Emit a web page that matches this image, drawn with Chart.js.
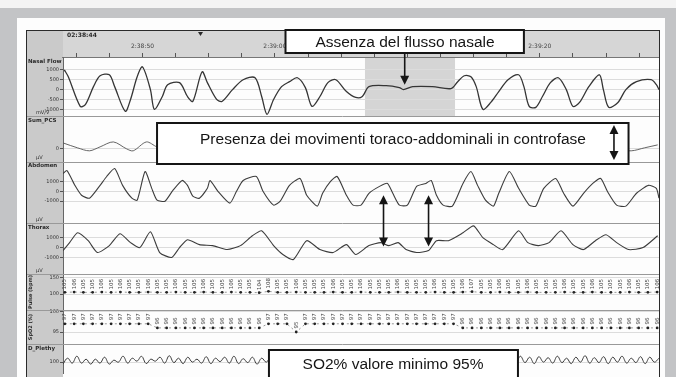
<!DOCTYPE html>
<html>
<head>
<meta charset="utf-8">
<script src="https://cdn.jsdelivr.net/npm/chart.js@4.4.1/dist/chart.umd.min.js"></script>
<style>
  html, body { margin: 0; padding: 0; background: #f4f4f4; }
  #wrap { width: 676px; height: 377px; }
</style>
</head>
<body>
<div id="wrap"><canvas id="psg" width="676" height="377"></canvas></div>
<script>
// time axis, seconds from the left edge of the page
const timeTicks = [1, 3.5, 6, 8.5, 11, 13.5, 16, 18.5, 21, 23.5, 26, 28.5, 31, 33.5, 36, 38.5, 41, 43.5];
const timeLabelAt = [6, 16, 26, 36];
const timeLabels = ["2:38:50", "2:39:00", "2:39:10", "2:39:20"];

// channel names / units / tick values
const rowNames = ["Nasal Flow", "Sum_PCS", "Abdomen", "Thorax", "Pulse (bpm)", "SpO2 (%)", "D_Plethy"];
const rowUnits = ["mV/V", "µV", "µV", "µV", "", "", ""];
const rowTicks = [[-1000, -500, 0, 500, 1000], [0], [-1000, 0, 1000], [-1000, 0, 1000], [100, 150], [95, 100], [100]];

// nasal flow
const flowT = [0.1,0.4,1.3,1.7,2.3,2.8,3.5,3.9,4.7,5.1, 5.6,6.0,6.6,6.9,7.5,7.9,8.8,9.4,9.8,10.5,
  10.9,11.6,12.0,12.8,13.6,14.5,15.0,15.4,15.9,16.5, 17.1,17.7,18.3,18.8,19.4,20.0,20.6,21.4,22.1,22.6,
  23.1,24.4,25.4,25.7,26.4,27.9,29.3,29.8,30.3,30.8, 31.2,31.7,32.3,32.9,33.6,34.4,34.8,35.2,35.7,36.2,
  36.8,37.4,38.0,38.5,39.0,39.7,40.5,40.8,41.2,41.9, 42.5,43.3,44.4,44.8,45.0];
const flowV = [1000,650,-850,-750,150,700,750,150,-1100,-500, 650,1150,0,-1000,-350,250,350,-350,-600,900,
  350,-500,-600,0,500,600,-350,-1250,-500,150, 400,600,100,-850,-350,350,500,-100,-400,-350,
  150,200,100,0,150,150,50,400,700,650, 150,-1000,-650,-100,500,750,150,-850,-900,-350,
  350,600,0,-850,-650,150,750,0,-900,-650, 0,400,500,250,0];

// summed effort (mostly under the note box)
const sumT = [0.0,1.1,2.0,2.8,3.8,4.8,5.3,6.3,7.1, 8.3,9.6,11.0,12.5,14.0,15.5,17.0,18.5,20.0,21.5,
  23.0,24.5,26.0,27.5,29.0,30.5,32.0,33.5,35.0,36.5, 38.0,39.5,41.0,42.9,43.9,44.9];
const sumV = [6,1,-2,2,7,0,-2,7,2, -1,5,-2,6,0,5,-2,6,1,-1, 0,1,0,0,1,6,-2,5,0,6, -2,5,0,-2,1,4];

// abdomen
const abdT = [0.0,0.3,0.9,1.4,2.0, 2.8,3.3,3.9,4.5,5.2, 5.6,6.2,6.7,7.1,7.7, 8.3,9.0,9.4,9.8,10.3,
  10.9,11.1,11.7,12.6,13.1, 13.6,14.6,15.1,15.9,16.4, 17.1,17.9,18.4,19.2,19.6, 20.2,20.7,21.4,21.9,22.5,
  23.1,23.9,24.5,24.9,25.4, 26.0,26.7,27.4,27.8,28.2, 28.7,29.4,30.2,30.8,31.3, 31.9,32.5,32.9,33.7,34.4,
  35.2,35.7,36.3,37.2,37.8, 38.5,39.3,40.0,40.6,41.1, 41.8,42.5,43.3,44.2,44.8, 45.0];
const abdV = [1800,2100,600,-400,-700, 600,1500,2300,600,-700, -900,2000,300,-900,-1000, 100,1100,600,-500,-700,
  300,1100,0,-1200,0, 1100,1500,0,-1400,-1000, 600,1300,-400,-1500,-200, 1000,1500,-400,-1400,-1400,
  -200,500,800,-200,-1400, -1400,500,800,1100,-400, -1400,-1500,800,2000,600, -900,-1500,-200,2000,300,
  -1400,-1500,300,1300,-200, -1500,-200,800,1300,0, -1400,-1500,-200,600,300, -700];

// thorax
const thoT = [0.0,0.5,1.1,1.9,2.6,3.5,4.3,5.1,5.8,6.6, 7.3,8.2,8.8,9.4,10.3,11.3,12.4,13.4,14.3,15.0,
  15.9,16.6,17.4,18.4,19.4,20.4,21.4,22.1,23.1,24.0, 24.6,25.3,25.9,26.7,27.6,28.2,29.1,30.2,31.0,31.7,
  32.5,33.2,34.4,35.1,35.9,36.7,37.6,38.5,39.3,40.2, 41.0,41.8,42.7,43.8,44.9];
const thoV = [-300,500,1500,700,-500,200,1400,500,0,1600, -500,-1000,0,800,300,200,-200,200,1200,1700,
  200,-700,-1200,700,-200,-500,300,-700,200,500, 200,500,-200,-500,-300,700,700,1500,2200,1000,
  300,-200,1700,500,200,500,1700,300,-200,700, 1300,500,-200,0,1200];

// beat-by-beat pulse and saturation
const pulseBpm = [105,106,105,105,106,105,106,105,105,106, 105,105,106,105,105,106,105,105,106,105,
  105,104,108,105,105,106,105,105,105,106, 105,105,106,105,105,105,106,105,105,105,
  106,105,105,106,107,105,105,106,105,105, 106,105,105,105,106,105,105,106,105,105, 105,106,105,105,106];
const spo2Pct = [97,97,97,97,97,97,97,97,97,97, 96,96,96,96,96,96,96,96,96,96,96,96, 97,97,97, 95,
  97,97,97,97,97,97,97,97,97,97,97,97,97,97,97,97,97,
  96,96,96,96,96,96,96,96,96,96,96,96,96,96,96,96,96,96,96,96,96,96];

// plethysmogram samples
const plethV = [80,140,90,160,90,130,80,130,90,150, 80,120,100,160,90,140,110,160,85,130,
  110,150,90,165,95,140,85,150,100,130, 90,155,85,140,105,150,90,160,85,135, 95,150,80,140,100,
  150,90,145,85,155,95,140,90,150,85, 160,90,145,95,150,85,140,90,155,95, 150,85,145,90,160,95,140,85,150,90,
  155,95,145,85,150,90,140,95,160,85, 150,90,145,95,155,85,140,90,150,95, 145,85,155,90,
  160,95,150,85,155,100,145,90,160,95, 140,85,150,100,165,90,145,95,155,85, 150,100,160,90,140,95,155,85,150,100,140];

// apnea window (no nasal flow)
const apneaT = [22.8, 29.6];

// layout of the stacked channels (px weight), axis ranges
const rowWeights = [60, 46, 62, 52, 36, 35, 29];
const rowRanges = [[-1350, 1650], [-13, 33], [-3200, 3000], [-2700, 2500], [53, 159], [92, 100.4], [-10, 280]];

const FONT = '"Liberation Sans", Arial, sans-serif';

function rowAxis(r) {
  return {
    type: "linear",
    position: "left",
    stack: "rows",
    stackWeight: rowWeights[r],
    weight: rowNames.length - r,
    min: rowRanges[r][0],
    max: rowRanges[r][1],
    afterBuildTicks: (s) => { s.ticks = rowTicks[r].map((v) => ({ value: v })); },
    afterFit: (s) => { s.width = 37; },
    ticks: {
      autoSkip: false, font: { size: 5, family: "DejaVu Sans" }, color: "#333", padding: 1,
      callback: (v) => String(v),
    },
    grid: { color: "#dcdcdc", tickLength: 3, tickColor: "#555" },
    border: { color: "#666" },
  };
}

const scales = {
  x: {
    type: "linear",
    position: "top",
    min: 0,
    max: 45,
    afterBuildTicks: (s) => { s.ticks = timeTicks.map((v) => ({ value: v })); },
    afterFit: (s) => { s.height = 27; },
    ticks: {
      autoSkip: false, maxRotation: 0, padding: 3,
      font: { size: 6, family: "DejaVu Sans" }, color: "#444",
      callback: (v) => { const k = timeLabelAt.indexOf(v); return k >= 0 ? timeLabels[k] : ""; },
    },
    grid: { drawOnChartArea: false, tickLength: 4, color: "#555" },
    border: { color: "#777" },
  },
  xBeat: { type: "linear", display: false, min: -0.2, max: 64.2 },
  xPleth: { type: "linear", display: false, min: 0, max: 129 },
};
rowNames.forEach((n, r) => { scales["y" + (r + 1)] = rowAxis(r); });

const pairs = (ts, vs) => ts.map((t, i) => ({ x: t, y: vs[i] }));
const trace = (data, yAxisID, extra) => Object.assign({
  data, yAxisID, xAxisID: "x", borderColor: "#3c3c3c", borderWidth: 1.1,
  pointRadius: 0, tension: 0.3, fill: false,
}, extra);

// background, shading, separators
const psgFrame = {
  id: "psgFrame",
  beforeDraw(chart) {
    const { ctx, chartArea: a, scales: s } = chart;
    const W = chart.width, H = chart.height;
    ctx.save();
    ctx.fillStyle = "#f4f4f4"; ctx.fillRect(0, 0, W, H);
    ctx.fillStyle = "#c3c4c6"; ctx.fillRect(0, 8, W, H - 8);
    ctx.fillStyle = "#fdfdfd"; ctx.fillRect(17, 18, 648, H - 18);
    ctx.fillStyle = "#cacaca"; ctx.fillRect(26, 30, a.left - 26, H - 30);
    ctx.fillStyle = "#d6d6d6"; ctx.fillRect(a.left, 30, a.right - a.left, a.top - 30);
    const x0 = s.x.getPixelForValue(apneaT[0]), x1 = s.x.getPixelForValue(apneaT[1]);
    ctx.fillStyle = "#d5d5d5";
    ctx.fillRect(x0, a.top - 4, x1 - x0, s.y1.bottom - a.top + 4);
    ctx.restore();
  },
  beforeDatasetsDraw(chart) {
    const { ctx, chartArea: a, scales: s } = chart;
    ctx.save();
    ctx.strokeStyle = "#999"; ctx.lineWidth = 1;
    for (let r = 2; r <= rowNames.length; r++) {
      const y = Math.round(s["y" + r].top) + 0.5;
      ctx.beginPath(); ctx.moveTo(26, y); ctx.lineTo(a.right, y); ctx.stroke();
    }
    ctx.restore();
  },
  afterDatasetsDraw(chart) {
    const { ctx } = chart;
    ctx.save();
    ctx.fillStyle = "#4a4a4a";
    ctx.font = "5.5px DejaVu Sans";
    ctx.textAlign = "center"; ctx.textBaseline = "middle";
    chart.data.datasets.forEach((ds, i) => {
      if (!ds.valueLabels) return;
      chart.getDatasetMeta(i).data.forEach((p, k) => {
        ctx.save();
        ctx.translate(p.x, p.y - ds.valueLabels);
        ctx.rotate(-Math.PI / 2);
        ctx.fillText(String(ds.data[k].y), 0, 0);
        ctx.restore();
      });
    });
    ctx.restore();
  },
  afterDraw(chart) {
    const { ctx, chartArea: a, scales: s } = chart;
    ctx.save();
    // channel names and units
    ctx.fillStyle = "#2a2a2a";
    ctx.textAlign = "left"; ctx.textBaseline = "top";
    rowNames.forEach((n, r) => {
      const sc = s["y" + (r + 1)];
      if (r === 4 || r === 5) {
        ctx.save();
        ctx.font = "bold 5px DejaVu Sans";
        ctx.translate(31, (sc.top + sc.bottom) / 2);
        ctx.rotate(-Math.PI / 2);
        ctx.textAlign = "center"; ctx.textBaseline = "middle";
        ctx.fillText(n, 0, 0);
        ctx.restore();
      } else {
        ctx.font = "bold 5.5px DejaVu Sans";
        ctx.fillText(n, 28, sc.top + 1.5);
      }
      if (rowUnits[r]) {
        ctx.font = "5px DejaVu Sans";
        ctx.fillText(rowUnits[r], 36, sc.bottom - 6);
      }
    });
    // header: start time and cursor mark
    ctx.font = "bold 6px DejaVu Sans";
    ctx.fillText("02:38:44", 67, 32);
    ctx.beginPath(); ctx.moveTo(198, 32); ctx.lineTo(203, 32); ctx.lineTo(200.5, 36); ctx.closePath(); ctx.fill();
    // outer frame
    ctx.strokeStyle = "#2a2a2a"; ctx.lineWidth = 1;
    ctx.strokeRect(26.5, 30.5, a.right - 26, chart.height);

    // notes
    const note = (x0, y0, x1, y1, text, tx, ty) => {
      ctx.fillStyle = "#ffffff"; ctx.fillRect(x0, y0, x1 - x0, y1 - y0);
      ctx.strokeStyle = "#151515"; ctx.lineWidth = 2; ctx.strokeRect(x0, y0, x1 - x0, y1 - y0);
      ctx.fillStyle = "#151515"; ctx.font = "15.5px " + FONT;
      ctx.textAlign = "center"; ctx.textBaseline = "middle";
      ctx.fillText(text, tx, ty);
    };
    const head = (x, y, dir) => {
      ctx.beginPath(); ctx.moveTo(x, y); ctx.lineTo(x - 4.5, y - 9 * dir); ctx.lineTo(x + 4.5, y - 9 * dir);
      ctx.closePath(); ctx.fill();
    };
    const arrow = (x, yA, yB, both) => {
      ctx.strokeStyle = "#151515"; ctx.fillStyle = "#151515"; ctx.lineWidth = 1.6;
      ctx.beginPath(); ctx.moveTo(x, both ? yA + 6 : yA); ctx.lineTo(x, yB - 6); ctx.stroke();
      head(x, yB, 1);
      if (both) head(x, yA, -1);
    };

    const xs = s.x;
    note(xs.getPixelForValue(16.8), 30, xs.getPixelForValue(34.8), 53, "Assenza del flusso nasale", 405, 42.5);
    arrow(xs.getPixelForValue(25.8), 53, s.y1.getPixelForValue(250), false);

    note(xs.getPixelForValue(7.1), 123, xs.getPixelForValue(42.7), 164,
      "Presenza dei movimenti toraco-addominali in controfase", 393, 139.5);
    arrow(xs.getPixelForValue(41.6), 125, 160, true);

    [24.2, 27.6].forEach((t) => {
      arrow(xs.getPixelForValue(t), s.y3.getPixelForValue(-400), s.y4.getPixelForValue(100), true);
    });

    note(xs.getPixelForValue(15.55), 350, xs.getPixelForValue(34.35), chart.height + 4,
      "SO2% valore minimo 95%", 393, 364.5);
    ctx.restore();
  },
};

Chart.defaults.font.family = "DejaVu Sans";

new Chart(document.getElementById("psg").getContext("2d"), {
  type: "line",
  data: {
    datasets: [
      trace(pairs(flowT, flowV), "y1", { borderWidth: 1.3, borderColor: "#353535" }),
      trace(pairs(sumT, sumV), "y2", { borderWidth: 0.9, borderColor: "#555" }),
      trace(pairs(abdT, abdV), "y3", { tension: 0.2 }),
      trace(pairs(thoT, thoV), "y4", { tension: 0.2 }),
      {
        data: pulseBpm.map((v, i) => ({ x: i, y: v })), xAxisID: "xBeat", yAxisID: "y5",
        borderColor: "#999", borderWidth: 1, borderDash: [2, 3],
        pointRadius: 1.4, pointBackgroundColor: "#222", pointBorderWidth: 0, valueLabels: 8,
      },
      {
        data: spo2Pct.map((v, i) => ({ x: i, y: v })), xAxisID: "xBeat", yAxisID: "y6",
        borderColor: "#999", borderWidth: 1, borderDash: [2, 3],
        pointRadius: 1.4, pointBackgroundColor: "#222", pointBorderWidth: 0, valueLabels: 7,
      },
      {
        data: plethV.map((v, i) => ({ x: i, y: v })), xAxisID: "xPleth", yAxisID: "y7",
        borderColor: "#3c3c3c", borderWidth: 1, pointRadius: 0, tension: 0.4,
      },
    ],
  },
  options: {
    responsive: false,
    animation: false,
    devicePixelRatio: 1,
    layout: { padding: { left: 26, right: 17, top: 30, bottom: 0 } },
    plugins: { legend: { display: false }, tooltip: { enabled: false } },
    scales: scales,
  },
  plugins: [psgFrame],
});
</script>
</body>
</html>
